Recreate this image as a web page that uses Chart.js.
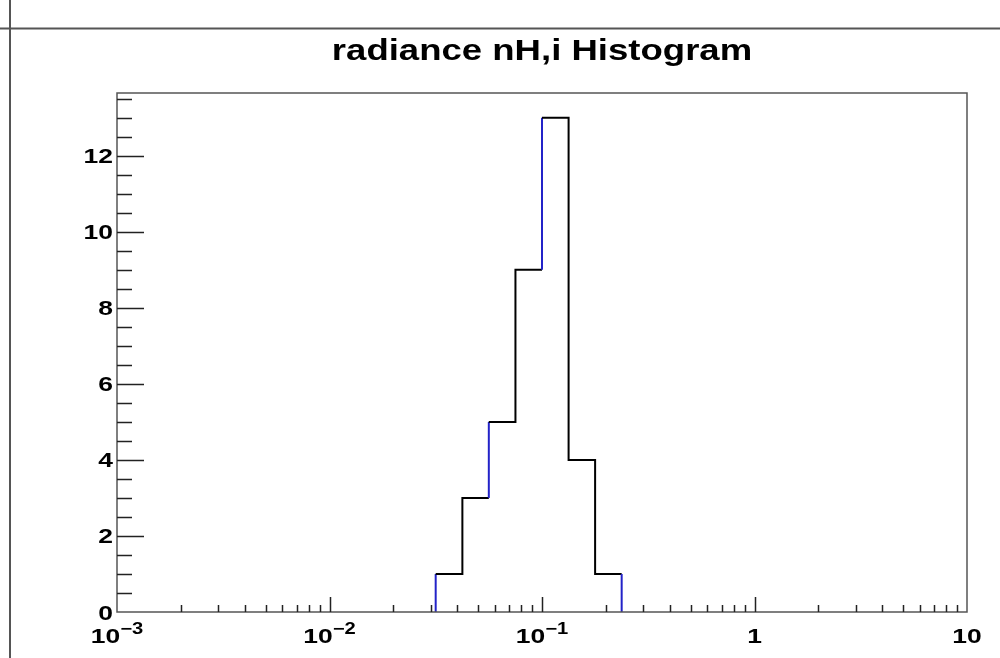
<!DOCTYPE html>
<html>
<head>
<meta charset="utf-8">
<script src="https://cdn.jsdelivr.net/npm/chart.js@4.4.1/dist/chart.umd.min.js"></script>
<style>
  html, body { margin: 0; padding: 0; background: #fff; }
</style>
</head>
<body>
<canvas id="chart" width="1000" height="658"></canvas>
<script>
const titleText = 'radiance nH,i Histogram';
// low edges of the filled bins, last one is the upper edge of the last bin
const binEdges = [0.0316, 0.0422, 0.0562, 0.075, 0.1, 0.1334, 0.1778, 0.2371];
const binCounts = [1, 3, 5, 9, 13, 4, 1];
const xTickValues = [0.001, 0.01, 0.1, 1, 10];
const xTickLabels = [['10', '-3'], ['10', '-2'], ['10', '-1'], ['1', ''], ['10', '']];
const yTickValues = [0, 2, 4, 6, 8, 10, 12];
const yMax = 13.65;

// which vertical steps come out blue in the reference
const blueEdges = [0, 2, 4, 7];
const STRETCH = 1.26;
const FONT = '"Liberation Sans", Arial, sans-serif';

// histogram outline as corner points
const outline = [{ x: binEdges[0], y: 0 }];
binCounts.forEach((c, i) => {
  outline.push({ x: binEdges[i], y: c });
  outline.push({ x: binEdges[i + 1], y: c });
});
outline.push({ x: binEdges[binEdges.length - 1], y: 0 });

function stretchedText(ctx, text, x, y, size, align) {
  ctx.save();
  ctx.font = 'bold ' + size + 'px ' + FONT;
  const w = ctx.measureText(text).width * STRETCH;
  let left = x;
  if (align === 'center') left = x - w / 2;
  if (align === 'right') left = x - w;
  ctx.translate(left, y);
  ctx.scale(STRETCH, 1);
  ctx.textAlign = 'left';
  ctx.textBaseline = 'alphabetic';
  ctx.fillText(text, 0, 0);
  ctx.restore();
  return w;
}

const rootStyle = {
  id: 'rootStyle',
  afterDraw(chart) {
    const ctx = chart.ctx;
    const a = chart.chartArea;
    const xs = chart.scales.x;
    const ys = chart.scales.y;
    ctx.save();

    // pad borders
    ctx.strokeStyle = '#555';
    ctx.lineWidth = 2;
    ctx.beginPath();
    ctx.moveTo(0, 28.5); ctx.lineTo(1000, 28.5);
    ctx.moveTo(10, 0); ctx.lineTo(10, 658);
    ctx.stroke();

    // frame
    ctx.strokeStyle = '#555';
    ctx.lineWidth = 1.5;
    ctx.strokeRect(a.left, a.top, a.right - a.left, a.bottom - a.top);

    // y ticks, every 0.5
    ctx.strokeStyle = '#222';
    ctx.lineWidth = 1.5;
    ctx.beginPath();
    for (let v = 0.5; v < yMax; v += 0.5) {
      const py = Math.round(ys.getPixelForValue(v)) + 0.5;
      const len = yTickValues.includes(v) ? 27 : 15;
      ctx.moveTo(a.left, py); ctx.lineTo(a.left + len, py);
    }
    // x ticks, decades and 2..9
    for (let d = 0; d < xTickValues.length - 1; d++) {
      for (let m = 1; m <= 9; m++) {
        const v = xTickValues[d] * m;
        const px = Math.round(xs.getPixelForValue(v)) + 0.5;
        const len = m === 1 ? 15 : 7;
        if (m === 1 && d === 0) continue;
        ctx.moveTo(px, a.bottom); ctx.lineTo(px, a.bottom - len);
      }
    }
    ctx.stroke();

    ctx.fillStyle = '#000';
    // title
    stretchedText(ctx, titleText, (a.left + a.right) / 2, 60, 29, 'center');

    // y labels
    yTickValues.forEach(v => {
      stretchedText(ctx, String(v), a.left - 4, ys.getPixelForValue(v) + 7.5, 21, 'right');
    });

    // x labels with superscript exponents
    xTickValues.forEach((v, i) => {
      const [base, exp] = xTickLabels[i];
      ctx.font = 'bold 21px ' + FONT;
      const wb = ctx.measureText(base).width * STRETCH;
      let we = 0;
      let expText = exp.replace('-', '\u2212');
      if (exp) {
        ctx.font = 'bold 16px ' + FONT;
        we = ctx.measureText(expText).width * STRETCH;
      }
      const left = xs.getPixelForValue(v) - (wb + we) / 2;
      stretchedText(ctx, base, left, 643, 21, 'left');
      if (exp) stretchedText(ctx, expText, left + wb, 634, 16, 'left');
    });
    ctx.restore();
  }
};

const ctx = document.getElementById('chart').getContext('2d');

new Chart(ctx, {
  type: 'line',
  data: {
    datasets: [{
      data: outline,
      borderColor: '#000',
      borderWidth: 2,
      pointRadius: 0,
      fill: false,
      tension: 0,
      segment: {
        borderColor: c => {
          if (c.p0.parsed.x !== c.p1.parsed.x) return undefined;
          return blueEdges.includes(binEdges.indexOf(c.p0.parsed.x)) ? '#2323c8' : undefined;
        }
      }
    }]
  },
  options: {
    responsive: false,
    animation: false,
    layout: { padding: { top: 93, right: 33, left: 0, bottom: 0 } },
    plugins: { legend: { display: false }, tooltip: { enabled: false }, title: { display: false } },
    scales: {
      x: {
        type: 'logarithmic',
        min: 0.001,
        max: 10,
        ticks: { display: false },
        grid: { display: false, drawTicks: false },
        border: { display: false },
        afterFit: s => { s.height = 46; }
      },
      y: {
        type: 'linear',
        min: 0,
        max: yMax,
        ticks: { display: false },
        grid: { display: false, drawTicks: false },
        border: { display: false },
        afterFit: s => { s.width = 117; }
      }
    }
  },
  plugins: [rootStyle]
});
</script>
</body>
</html>
